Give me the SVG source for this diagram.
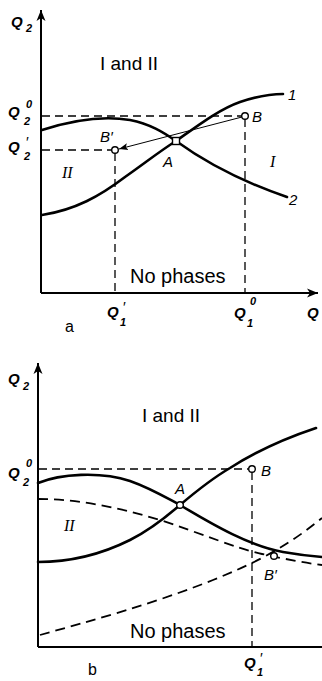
<svg xmlns="http://www.w3.org/2000/svg" width="322" height="681" viewBox="0 0 322 681">
<style>
.bg{fill:#fff}
.axis{stroke:#000;stroke-width:2;fill:none}
.curve{stroke:#000;stroke-width:2.6;fill:none;stroke-linecap:round}
.dash{stroke:#000;stroke-width:1.3;fill:none;stroke-dasharray:8,5}
.dcurve{stroke:#000;stroke-width:1.8;fill:none;stroke-dasharray:10,6}
.thin{stroke:#000;stroke-width:1;fill:none}
.pt{fill:#fff;stroke:#000;stroke-width:1.4}
.q{font-family:"Liberation Sans",Arial,sans-serif;font-style:italic;font-weight:bold;font-size:15px;fill:#000}
.qs{font-family:"Liberation Sans",Arial,sans-serif;font-style:italic;font-weight:bold;font-size:11px;fill:#000}
.pr{font-family:"Liberation Sans",Arial,sans-serif;font-size:15px;fill:#000}
.lbl{font-family:"Liberation Sans",Arial,sans-serif;font-style:italic;font-size:15px;fill:#000}
.rom{font-family:"Liberation Serif","Times New Roman",serif;font-style:italic;font-size:16px;fill:#000}
.reg{font-family:"Liberation Sans",Arial,sans-serif;font-size:19px;fill:#000}
.np{font-family:"Liberation Sans",Arial,sans-serif;font-size:20px;fill:#000}
.cap{font-family:"Liberation Sans",Arial,sans-serif;font-size:16px;fill:#000}
</style>
<defs>
<marker id="ax" markerWidth="12" markerHeight="10" refX="11" refY="5" orient="auto" markerUnits="userSpaceOnUse">
<path d="M0,0.5 L11,5 L0,9.5 L3,5 Z" fill="#000"/>
</marker>
<marker id="ar" markerWidth="10" markerHeight="8" refX="9" refY="4" orient="auto" markerUnits="userSpaceOnUse">
<path d="M0,0.5 L9,4 L0,7.5 L2,4 Z" fill="#000"/>
</marker>
</defs>
<rect class="bg" x="0" y="0" width="322" height="681"/>

<g id="panel-a">
<g id="axes-a">
<path class="axis" d="M41,293 L41,10" marker-end="url(#ax)"/>
<path class="axis" d="M41,293 L318,293" marker-end="url(#ax)"/>
</g>
<g id="connectors-a">
<path class="dash" d="M42,116 L242,116"/>
<path class="dash" d="M42,150 L112,150"/>
<path class="dash" d="M115,153 L115,292"/>
<path class="dash" d="M245,119 L245,292"/>
<path class="thin" d="M242,117 L119,149" marker-end="url(#ar)"/>
</g>
<g id="curve1-a">
<path class="curve" d="M42,215 C75,210 100,196 125,177 C145,163 160,151 176,141 C200,124 220,109 240,102 C258,96 270,94 283,94"/>
<text class="lbl" x="288" y="100">1</text>
</g>
<g id="curve2-a">
<path class="curve" d="M42,130 C70,121 100,115 130,120 C150,124 163,132 176,141 C205,162 240,181 287,197"/>
<text class="lbl" x="289" y="205">2</text>
</g>
<g id="pointA-a">
<rect class="pt" x="172.5" y="137.5" width="7" height="7"/>
<text class="lbl" x="163" y="167">A</text>
</g>
<g id="pointB-a">
<circle class="pt" cx="245" cy="116" r="3.3"/>
<text class="lbl" x="252" y="122">B</text>
</g>
<g id="pointBp-a">
<circle class="pt" cx="115" cy="150" r="3.3"/>
<text class="lbl" x="100" y="142">B′</text>
</g>
<g id="labels-a">
<text class="q" x="11" y="27">Q</text><text class="qs" x="26" y="32">2</text>
<text class="q" x="8" y="117">Q</text><text class="qs" x="26" y="108">0</text><text class="qs" x="24" y="125">2</text>
<text class="q" x="8" y="152">Q</text><text class="pr" x="26" y="147">′</text><text class="qs" x="24" y="160">2</text>
<text class="q" x="107" y="317">Q</text><text class="pr" x="123" y="312">′</text><text class="qs" x="120" y="326">1</text>
<text class="q" x="234" y="318">Q</text><text class="qs" x="250" y="305">0</text><text class="qs" x="247" y="327">1</text>
<text class="q" x="307" y="318">Q</text>
<text class="reg" x="100" y="70">I and II</text>
<text class="rom" x="62" y="178">II</text>
<text class="rom" x="270" y="167">I</text>
<text class="np" x="130" y="283">No phases</text>
<text class="cap" x="65" y="332">a</text>
</g>
</g>

<g id="panel-b">
<g id="axes-b">
<path class="axis" d="M38,647 L38,363" marker-end="url(#ax)"/>
<path class="axis" d="M38,647 L322,647"/>
</g>
<g id="connectors-b">
<path class="dash" d="M39,469 L249,469"/>
<path class="dash" d="M252,472 L252,646"/>
</g>
<g id="curve1-b">
<path class="curve" d="M38,562 C70,562 100,555 130,540 C150,530 165,518 180,505 C200,488 213,478 230,468 C255,452 280,440 316,428"/>
</g>
<g id="curve2-b">
<path class="curve" d="M38,483 C60,474 100,471 130,481 C150,488 165,497 180,505 C215,526 250,546 283,552 C300,555 310,556 322,557"/>
</g>
<g id="dashed-upper-b">
<path class="dcurve" d="M38,499 C80,499 120,508 160,520 C200,533 235,548 262,554 C285,559 305,563 322,565"/>
</g>
<g id="dashed-lower-b">
<path class="dcurve" d="M40,635 C90,621 150,605 213,580 C250,565 283,550 322,518"/>
</g>
<g id="pointA-b">
<circle class="pt" cx="180" cy="505" r="3.3"/>
<text class="lbl" x="175" y="494">A</text>
</g>
<g id="pointB-b">
<circle class="pt" cx="252" cy="469" r="3.3"/>
<text class="lbl" x="261" y="476">B</text>
</g>
<g id="pointBp-b">
<circle class="pt" cx="274" cy="556" r="3.3"/>
<text class="lbl" x="264" y="580">B′</text>
</g>
<g id="labels-b">
<text class="q" x="8" y="384">Q</text><text class="qs" x="23" y="390">2</text>
<text class="q" x="8" y="478">Q</text><text class="qs" x="26" y="467">0</text><text class="qs" x="23" y="486">2</text>
<text class="q" x="244" y="668">Q</text><text class="pr" x="260" y="663">′</text><text class="qs" x="257" y="676">1</text>
<text class="reg" x="142" y="422">I and II</text>
<text class="rom" x="64" y="531">II</text>
<text class="np" x="130" y="638">No phases</text>
<text class="cap" x="88" y="675">b</text>
</g>
</g>
</svg>
